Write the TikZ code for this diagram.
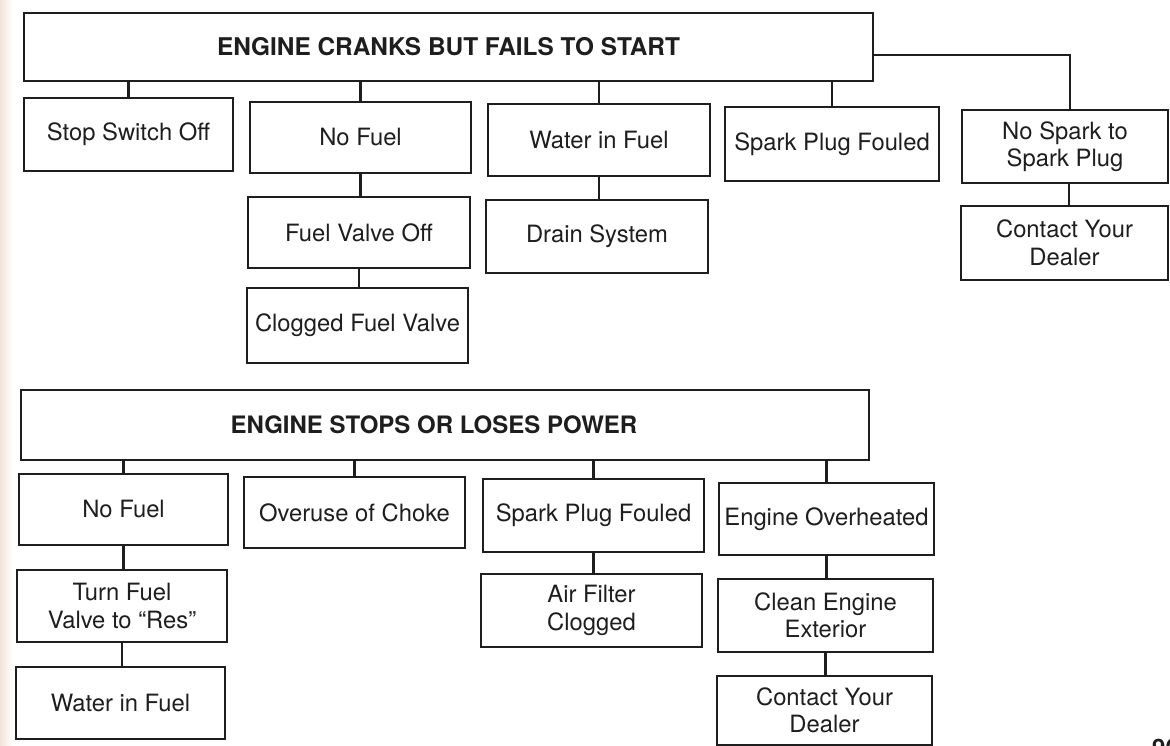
\documentclass[tikz,border=0pt]{standalone}
\usepackage{fontspec}
\setmainfont{TeX Gyre Heros}
\definecolor{ink}{RGB}{30,30,30}
\definecolor{pagebeige}{RGB}{242,228,216}
\begin{document}
\begin{tikzpicture}[x=1pt,y=-1pt,
  box/.style={draw=ink, line width=2.2pt, rectangle, inner sep=0pt, align=center, text=ink,
    font=\fontsize{23.8}{27.5}\selectfont},
  head/.style={box, font=\fontsize{24.4}{28}\selectfont\bfseries},
  headtext/.style={inner sep=0pt, text=ink, font=\fontsize{24}{28}\selectfont\bfseries},
  link/.style={draw=ink, line width=2.2pt}]
\useasboundingbox (0,0) rectangle (1170,746);
\fill[white] (0,0) rectangle (1170,746);
\shade[left color=pagebeige, right color=white] (0,0) rectangle (13,746);

% ---------- Tree 1 ----------
\node[head, minimum width=849pt, minimum height=68pt] (m1) at (448.5,47) {ENGINE CRANKS BUT FAILS TO START};
\node[box, minimum width=209pt, minimum height=73pt] (sw)  at (128.5,134.5) {Stop Switch Off};
\node[box, minimum width=221pt, minimum height=71pt] (nf)  at (360.5,137.5) {No Fuel};
\node[box, minimum width=222pt, minimum height=72pt] (wf)  at (599,140) {Water in Fuel};
\node[box, minimum width=214pt, minimum height=74pt] (spf) at (832,144) {Spark Plug Fouled};
\node[box, minimum width=206pt, minimum height=73pt] (ns)  at (1065,146.5) {No Spark to\\Spark Plug};
\node[box, minimum width=222pt, minimum height=71pt] (fvo) at (359,232.5) {Fuel Valve Off};
\node[box, minimum width=222pt, minimum height=73pt] (ds)  at (597,236.5) {Drain System};
\node[box, minimum width=207pt, minimum height=74pt] (cd1) at (1064.5,243) {Contact Your\\Dealer};
\node[box, minimum width=221pt, minimum height=75pt] (cfv) at (357.5,325.5) {Clogged Fuel Valve};

\draw[link] (m1.south -| sw.north) -- (sw.north);
\draw[link] (m1.south -| nf.north) -- (nf.north);
\draw[link] (m1.south -| wf.north) -- (wf.north);
\draw[link] (m1.south -| spf.north) -- (spf.north);
\draw[link] ([yshift=-8pt]m1.east) -| ([xshift=5pt]ns.north);
\draw[link] (nf.south) -- (nf.south |- fvo.north);
\draw[link] (fvo.south) -- (fvo.south |- cfv.north);
\draw[link] (wf.south) -- (wf.south |- ds.north);
\draw[link] ([xshift=4pt]ns.south) -- ([xshift=4pt]ns.south |- cd1.north);

% ---------- Tree 2 ----------
\node[box, minimum width=848pt, minimum height=70pt] (m2) at (445,425) {};
\node[headtext] (t2) at (434,425) {ENGINE STOPS OR LOSES POWER};
\node[box, minimum width=209pt, minimum height=71pt] (nf2)  at (123.5,509.5) {No Fuel};
\node[box, minimum width=221pt, minimum height=71pt] (oc)   at (354.5,512.5) {Overuse of Choke};
\node[box, minimum width=221pt, minimum height=73pt] (spf2) at (593.5,515.5) {Spark Plug Fouled};
\node[box, minimum width=215pt, minimum height=72pt] (eo)   at (826.5,519) {Engine Overheated};
\node[box, minimum width=210pt, minimum height=72pt] (tfv)  at (122,606) {Turn Fuel\\Valve to ``Res''};
\node[box, minimum width=221pt, minimum height=73pt] (afc)  at (591.5,610.5) {Air Filter\\Clogged};
\node[box, minimum width=215pt, minimum height=73pt] (cee)  at (825.5,615.5) {Clean Engine\\Exterior};
\node[box, minimum width=209pt, minimum height=72pt] (wf2)  at (120.5,703) {Water in Fuel};
\node[box, minimum width=215pt, minimum height=69pt] (cd2)  at (824.5,710.5) {Contact Your\\Dealer};

\draw[link] (m2.south -| nf2.north) -- (nf2.north);
\draw[link] (m2.south -| oc.north) -- (oc.north);
\draw[link] (m2.south -| spf2.north) -- (spf2.north);
\draw[link] (m2.south -| eo.north) -- (eo.north);
\draw[link] (nf2.south) -- (nf2.south |- tfv.north);
\draw[link] (tfv.south) -- (tfv.south |- wf2.north);
\draw[link] (spf2.south) -- (spf2.south |- afc.north);
\draw[link] (eo.south) -- (eo.south |- cee.north);
\draw[link] (cee.south) -- (cee.south |- cd2.north);

% page number, cut by the page edge as in the scan
\node[anchor=north west, inner sep=0pt, text=ink, font=\fontsize{24}{28}\selectfont\bfseries] (pg) at (1152,739) {96};
\end{tikzpicture}
\end{document}
